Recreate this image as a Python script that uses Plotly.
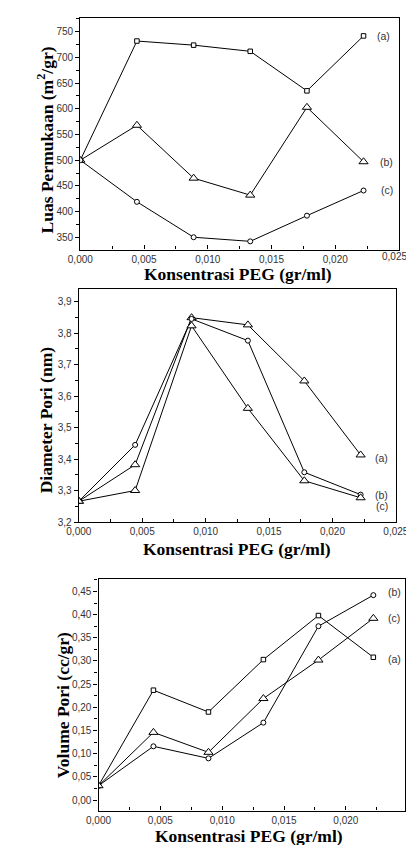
import plotly.graph_objects as go

# ---------------- data ----------------
x_peg = [0.0, 0.00444, 0.00889, 0.01333, 0.01778, 0.02222]

luas_a = [500, 732, 724, 712, 635, 742]
luas_b = [500, 568, 465, 432, 603, 497]
luas_c = [500, 419, 350, 342, 392, 441]

diam_a = [3.266, 3.382, 3.849, 3.826, 3.648, 3.413]
diam_b = [3.266, 3.445, 3.845, 3.776, 3.358, 3.287]
diam_c = [3.266, 3.300, 3.823, 3.561, 3.331, 3.277]

vol_a = [0.031, 0.237, 0.190, 0.303, 0.398, 0.308]
vol_b = [0.031, 0.116, 0.090, 0.167, 0.375, 0.442]
vol_c = [0.031, 0.146, 0.103, 0.219, 0.302, 0.392]

x_ticks = [0.0, 0.005, 0.010, 0.015, 0.020, 0.025]
x_ticklabels = ["0,000", "0,005", "0,010", "0,015", "0,020", "0,025"]
luas_ticks = [350, 400, 450, 500, 550, 600, 650, 700, 750]
diam_ticks = [3.2, 3.3, 3.4, 3.5, 3.6, 3.7, 3.8, 3.9]
vol_ticks = [0.00, 0.05, 0.10, 0.15, 0.20, 0.25, 0.30, 0.35, 0.40, 0.45]

x_title = "Konsentrasi PEG (gr/ml)"
y_titles = ["Luas Permukaan (m<sup>2</sup>/gr)", "Diameter Pori (nm)", "Volume Pori (cc/gr)"]

# ---------------- layout helpers ----------------
W, H = 414, 845
def xd(a, b):
    return [a / W, b / W]
def yd(top, bot):
    return [1 - bot / H, 1 - top / H]

TICKFONT = dict(family="Liberation Sans, Arial, sans-serif", size=10, color="#333333")
TITLEFONT = dict(family="Liberation Serif, Times New Roman, serif", size=17.5, color="black")

fig = go.Figure()

def add_series(xs, ys, symbol, size, xa, ya):
    fig.add_trace(go.Scatter(
        x=xs, y=ys, mode="lines+markers",
        line=dict(color="black", width=1),
        marker=dict(symbol=symbol, size=size, color="white",
                    line=dict(color="black", width=1)),
        xaxis=xa, yaxis=ya, showlegend=False, hoverinfo="x+y"))

# panel 1
add_series(x_peg, luas_a, "square", 4.5, "x", "y")
add_series(x_peg, luas_b, "triangle-up", 8, "x", "y")
add_series(x_peg, luas_c, "circle", 5, "x", "y")
# panel 2
add_series(x_peg, diam_a, "triangle-up", 8, "x2", "y2")
add_series(x_peg, diam_b, "circle", 5, "x2", "y2")
add_series(x_peg, diam_c, "triangle-up", 8, "x2", "y2")
# panel 3
add_series(x_peg, vol_a, "square", 4.5, "x3", "y3")
add_series(x_peg, vol_b, "circle", 5, "x3", "y3")
add_series(x_peg, vol_c, "triangle-up", 8, "x3", "y3")

def xaxis_cfg(domain, anchor, rng, tickvals, ticktext):
    return dict(domain=domain, anchor=anchor, range=rng,
                tickvals=tickvals, ticktext=ticktext,
                ticks="inside", ticklen=4, tickwidth=1, tickcolor="black",
                minor=dict(ticks="inside", ticklen=3, tickcolor="black", dtick=0.0025, tick0=0),
                showline=True, linecolor="black", linewidth=1.3, mirror=True,
                showgrid=False, zeroline=False, tickfont=TICKFONT)

def yaxis_cfg(domain, anchor, rng, tickvals, ticktext, minor_dtick):
    return dict(domain=domain, anchor=anchor, range=rng,
                tickvals=tickvals, ticktext=ticktext,
                ticks="outside", ticklen=4, tickwidth=1, tickcolor="black",
                minor=dict(ticks="outside", ticklen=3, tickcolor="black", dtick=minor_dtick, tick0=0),
                showline=True, linecolor="black", linewidth=1.3, mirror=True,
                showgrid=False, zeroline=False, tickfont=TICKFONT)

# panel 1: last tick label (0,025) drawn separately so it is not clipped at the page edge
x1_ticktext = x_ticklabels[:-1] + [""]

fig.update_layout(
    width=W, height=H, autosize=False,
    margin=dict(l=0, r=0, t=0, b=0),
    paper_bgcolor="white", plot_bgcolor="white",
    xaxis=xaxis_cfg(xd(63.3, 403.3), "y", [0, 0.025], x_ticks, x1_ticktext),
    yaxis=yaxis_cfg(yd(10, 243.3), "x", [326, 777], luas_ticks, [str(v) for v in luas_ticks], 25),
    xaxis2=xaxis_cfg(xd(61.7, 400), "y2", [0, 0.025], x_ticks, x_ticklabels),
    yaxis2=yaxis_cfg(yd(283, 517.7), "x2", [3.2, 3.94], diam_ticks,
                     [f"{v:.1f}".replace(".", ",") for v in diam_ticks], 0.05),
    xaxis3=xaxis_cfg(xd(82.7, 410), "y3", [0, 0.0248], x_ticks[:-1], x_ticklabels[:-1]),
    yaxis3=yaxis_cfg(yd(575, 808.3), "x3", [-0.0226, 0.477], vol_ticks,
                     [f"{v:.2f}".replace(".", ",") for v in vol_ticks], 0.025),
)

ann = []
ann.append(dict(text=x_ticklabels[-1], x=W / W, y=1 - 250.5 / H, xref="paper", yref="paper",
                showarrow=False, xanchor="right", yanchor="middle", font=TICKFONT))

def label(text, px, py):
    ann.append(dict(text=text, x=px / W, y=1 - py / H, xref="paper", yref="paper",
                    showarrow=False, xanchor="center", yanchor="middle",
                    font=dict(family="Liberation Sans, Arial, sans-serif", size=10.5, color="#333333")))

label("(a)", 387, 27.7); label("(b)", 390, 155); label("(c)", 390, 183)
label("(a)", 385, 453); label("(b)", 385, 490); label("(c)", 385, 502)
label("(b)", 398, 588); label("(c)", 398, 614); label("(a)", 398, 656)

def title(text, px, py, angle=0):
    ann.append(dict(text=f"<b>{text}</b>", x=px / W, y=1 - py / H, xref="paper", yref="paper",
                    showarrow=False, xanchor="center", yanchor="middle", textangle=angle,
                    font=TITLEFONT))

title(x_title, 232, 268)
title(x_title, 231, 545)
title(x_title, 243, 834)
title(y_titles[0], 26, 133, -90)
title(y_titles[1], 27, 415, -90)
title(y_titles[2], 45, 702, -90)

fig.update_layout(annotations=ann)
fig.write_html("out.html")
